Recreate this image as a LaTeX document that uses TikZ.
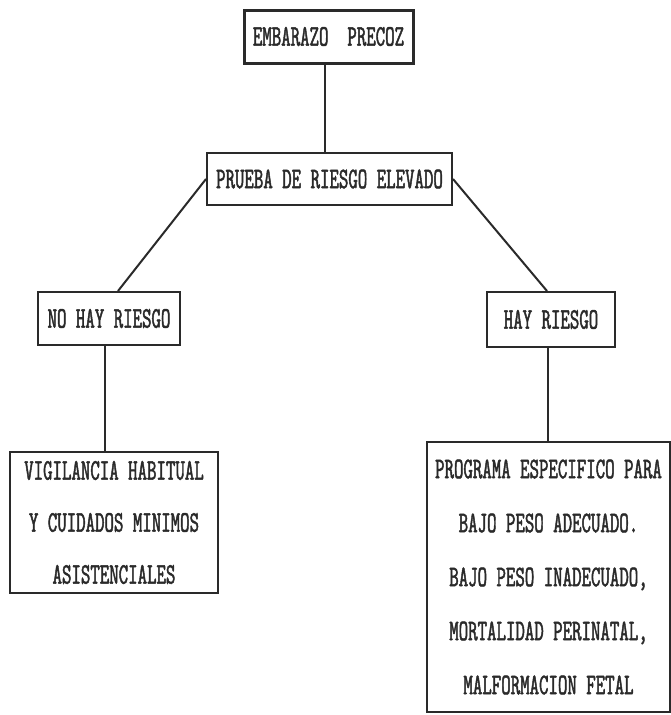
\documentclass[tikz,border=0pt]{standalone}
\usepackage{fontspec}
\newfontfamily\twfont{lmmono10-regular.otf}[FakeStretch=0.6,FakeBold=1.5]
\definecolor{ink}{HTML}{2A2A2A}
\begin{document}
\begin{tikzpicture}[x=1pt,y=-1pt,
  box/.style={draw=ink, line width=2pt, inner sep=0pt, align=center, text=ink,
    font={\twfont\fontsize{30}{54}\selectfont}},
  link/.style={draw=ink, line width=2pt}]
\useasboundingbox (0,0) rectangle (671,715);
\node[box, line width=3pt, minimum width=169pt, minimum height=53pt] (top) at (328.5,36.5) {EMBARAZO\ \ PRECOZ};
\node[box, minimum width=245pt, minimum height=52pt] (prueba) at (329.5,179) {PRUEBA DE RIESGO ELEVADO};
\node[box, minimum width=142pt, minimum height=53pt] (nohay) at (109,318.5) {NO HAY RIESGO};
\node[box, minimum width=128pt, minimum height=55pt] (hay) at (551,319.5) {HAY RIESGO};
\node[box, minimum width=208pt, minimum height=141pt,
  font={\twfont\fontsize{30}{52}\selectfont}] (vig) at (114,522.5)
  {VIGILANCIA HABITUAL\\Y CUIDADOS MINIMOS\\ASISTENCIALES};
\node[box, minimum width=243pt, minimum height=270pt] (prog) at (548.5,577)
  {PROGRAMA ESPECIFICO PARA\\BAJO PESO ADECUADO.\\BAJO PESO INADECUADO,\\MORTALIDAD PERINATAL,\\MALFORMACION FETAL};
\draw[link] ([xshift=-3.5pt]top.south) -- ([xshift=-3.5pt]top.south |- prueba.north);
\draw[link] (prueba.west) -- ([xshift=9pt]nohay.north);
\draw[link] (prueba.east) -- ([xshift=-4pt]hay.north);
\draw[link] ([xshift=-4pt]nohay.south) -- ([xshift=-4pt]nohay.south |- vig.north);
\draw[link] ([xshift=-3pt]hay.south) -- ([xshift=-3pt]hay.south |- prog.north);
\end{tikzpicture}
\end{document}
